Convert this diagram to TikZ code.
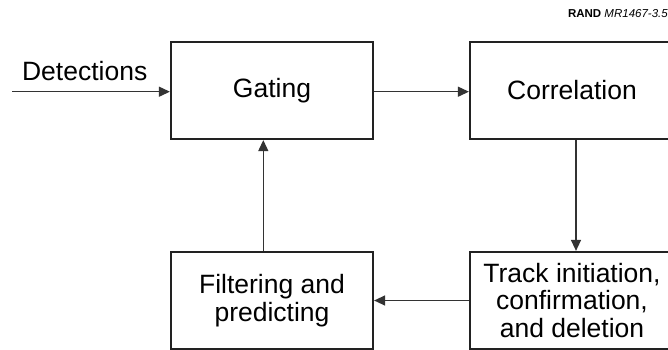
\documentclass[tikz,border=0pt]{standalone}
\usepackage{fontspec}
\setmainfont{Liberation Sans}
\usetikzlibrary{arrows.meta}
\definecolor{boxline}{HTML}{222222}
\definecolor{arrline}{HTML}{333333}
\tikzset{
  blockbox/.style={draw=boxline, line width=2.2pt, minimum height=97pt, inner sep=0pt, align=center,
    font=\fontsize{26.5}{27.5}\selectfont},
  flowarrow/.style={draw=arrline, line width=1.3pt, -{Triangle[length=11pt,width=10pt]}},
}
\begin{document}
\begin{tikzpicture}[x=1pt,y=-1pt]
\useasboundingbox (0,0) rectangle (668,350);
\node[blockbox, minimum width=202pt] (gating) at (272,90.5) {Gating};
\node[blockbox, minimum width=204pt] (corr) at (572,90.5) {Correlation};
\node[blockbox, minimum width=202pt] (filt) at (272,300.5) {Filtering and\\predicting};
\node[blockbox, minimum width=204pt] (track) at (572,300.5) {Track initiation,\\confirmation,\\and deletion};
\node[anchor=base, inner sep=0pt, font=\fontsize{26.5}{27.5}\selectfont] (det) at (84.7,80.7) {Detections};
\coordinate (detstart) at (12,91.7);
\node[anchor=base east, inner sep=0pt, font=\fontsize{11.5}{12}\selectfont] (rand) at (668,18) {\textbf{RAND} \textit{MR1467-3.5}};
\draw[flowarrow] (detstart) -- (detstart -| gating.west);
\draw[flowarrow] ([yshift=-1.2pt]gating.east) -- ([yshift=-1.2pt]corr.west);
\draw[flowarrow] ([xshift=4pt]corr.south) -- ([xshift=4pt]track.north);
\draw[flowarrow] (track.west) -- (filt.east);
\draw[flowarrow] ([xshift=-8.7pt]filt.north) -- ([xshift=-8.7pt]gating.south);
\end{tikzpicture}
\end{document}
